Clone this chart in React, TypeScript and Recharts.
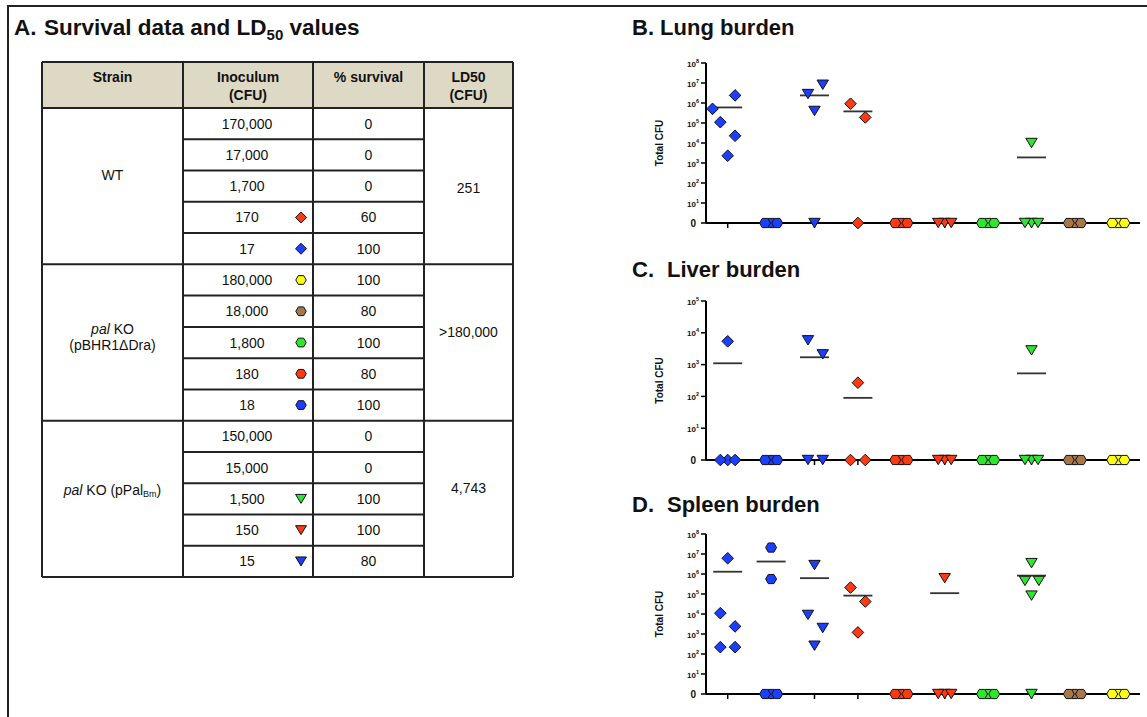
import React from "react";
import { ScatterChart, Scatter, XAxis, YAxis } from "recharts";

const FONT = "Arial, 'Liberation Sans', Helvetica, sans-serif";

const BLUE = "#1c3fff";
const RED = "#ff3a12";
const GREEN = "#2fe62f";
const BROWN = "#a5774b";
const YELLOW = "#ffff14";

// groups along the x axis (1..10), keyed to the symbols of the table
const groupLabels = [
  "WT 17",
  "pal KO 18",
  "pal KO (pPal) 15",
  "WT 170",
  "pal KO 180",
  "pal KO (pPal) 150",
  "pal KO 1,800",
  "pal KO (pPal) 1,500",
  "pal KO 18,000",
  "pal KO 180,000",
];
const groupShapes = ["diamond", "hexagon", "triangle", "diamond", "hexagon", "triangle", "hexagon", "triangle", "hexagon", "hexagon"];
const groupColors = [BLUE, BLUE, BLUE, RED, RED, RED, GREEN, GREEN, BROWN, YELLOW];

// lung burden, total CFU per mouse (0 = none recovered)
const lungValues = [
  [5.1e5, 1.1e5, 2.4e6, 2.3e4, 2.3e3],
  [0, 0, 0],
  [2.8e6, 8.2e6, 4e5, 0],
  [9.2e5, 1.9e5, 0],
  [0, 0, 0],
  [0, 0, 0],
  [0, 0, 0],
  [1e4, 0, 0, 0],
  [0, 0, 0],
  [0, 0, 0],
];
const lungOffsets = [
  [-0.35, -0.17, 0.17, 0.17, 0],
  [0, -0.14, 0.14],
  [-0.15, 0.19, 0, 0],
  [-0.17, 0.17, 0],
  [0, -0.14, 0.14],
  [0, -0.15, 0.15],
  [0, -0.14, 0.14],
  [0, 0, -0.15, 0.15],
  [0, -0.14, 0.14],
  [0, -0.14, 0.14],
];
const lungMeans = [6e5, null, 2.4e6, 3.8e5, null, null, null, 1.9e3, null, null];

// liver burden
const liverValues = [
  [5.4e3, 0, 0, 0],
  [0, 0, 0],
  [5.8e3, 2.1e3, 0, 0],
  [2.7e2, 0, 0],
  [0, 0, 0],
  [0, 0, 0],
  [0, 0, 0],
  [2.8e3, 0, 0, 0],
  [0, 0, 0],
  [0, 0, 0],
];
const liverOffsets = [
  [0, 0, -0.17, 0.17],
  [0, -0.14, 0.14],
  [-0.15, 0.19, -0.15, 0.19],
  [0, -0.17, 0.17],
  [0, -0.14, 0.14],
  [0, -0.15, 0.15],
  [0, -0.14, 0.14],
  [0, 0, -0.15, 0.15],
  [0, -0.14, 0.14],
  [0, -0.14, 0.14],
];
const liverMeans = [1.1e3, null, 1.7e3, 90, null, null, null, 5.3e2, null, null];

// spleen burden
const spleenValues = [
  [6.1e6, 1.1e4, 2.4e3, 2.2e2, 2.2e2],
  [2.1e7, 5.6e5, 0, 0, 0],
  [2.8e6, 9e3, 2e3, 2.6e2],
  [2.1e5, 4.2e4, 1.2e3],
  [0, 0, 0],
  [6.2e5, 0, 0, 0],
  [0, 0, 0],
  [3.5e6, 4.5e5, 4.5e5, 8.3e4, 0],
  [0, 0, 0],
  [0, 0, 0],
];
const spleenOffsets = [
  [0, -0.17, 0.17, -0.17, 0.17],
  [0, 0, 0, -0.14, 0.14],
  [0, -0.15, 0.19, 0],
  [-0.17, 0.17, 0],
  [0, -0.14, 0.14],
  [0, 0, -0.15, 0.15],
  [0, -0.14, 0.14],
  [0, -0.15, 0.17, 0, 0],
  [0, -0.14, 0.14],
  [0, -0.14, 0.14],
];
const spleenMeans = [1.3e6, 4.2e6, 6.2e5, 8.3e4, null, 1.1e5, null, 8.3e5, null, null];

// table A
const strainLD50 = ["251", ">180,000", "4,743"];
const inocula = [
  ["170,000", "17,000", "1,700", "170", "17"],
  ["180,000", "18,000", "1,800", "180", "18"],
  ["150,000", "15,000", "1,500", "150", "15"],
];
const survival = [
  ["0", "0", "0", "60", "100"],
  ["100", "80", "100", "80", "100"],
  ["0", "0", "100", "100", "80"],
];
// which plotted group each inoculum row stands for
const rowGroups = [
  [null, null, null, 3, 0],
  [9, 8, 6, 4, 1],
  [null, null, 7, 5, 2],
];

const toLog = (v: number) => (v > 0 ? Math.log10(v) : 0);

function buildPoints(values: number[][], offsets: number[][]) {
  return values.map((vals, g) =>
    vals.map((v, i) => ({ x: g + 1 + offsets[g][i], y: toLog(v), group: groupLabels[g] }))
  );
}
function buildMeans(means: (number | null)[]) {
  return means
    .map((m, g) => (m == null ? null : { x: g + 1, y: toLog(m) }))
    .filter(Boolean) as { x: number; y: number }[];
}

function markerPath(shape: string, cx: number, cy: number, s = 1) {
  if (shape === "diamond") {
    const r = 5.8 * s;
    return `M${cx},${cy - r}L${cx + r},${cy}L${cx},${cy + r}L${cx - r},${cy}Z`;
  }
  if (shape === "hexagon") {
    const w = 5.5 * s, w2 = 2.8 * s, h = 4.6 * s;
    return `M${cx - w},${cy}L${cx - w2},${cy - h}L${cx + w2},${cy - h}L${cx + w},${cy}L${cx + w2},${cy + h}L${cx - w2},${cy + h}Z`;
  }
  const w = 5.7 * s, h = 4.7 * s;
  return `M${cx - w},${cy - h}L${cx + w},${cy - h}L${cx},${cy + h}Z`;
}

const makeMarker = (shape: string, color: string) => (props: any) => {
  const { cx, cy } = props;
  if (cx == null || cy == null) return <g />;
  return <path d={markerPath(shape, cx, cy)} fill={color} stroke="#111" strokeWidth={1} />;
};

const MeanLine = (props: any) => {
  const { cx, cy } = props;
  if (cx == null || cy == null) return <g />;
  return <line x1={cx - 14.5} x2={cx + 14.5} y1={cy} y2={cy} stroke="#333" strokeWidth={1.8} />;
};

const LogTick = (props: any) => {
  const { x, y, payload } = props;
  const v = payload.value;
  if (v === 0) {
    return (
      <text x={x - 3} y={y + 4} textAnchor="end" fontSize={10} fontWeight="bold" fontFamily={FONT} fill="#111">
        0
      </text>
    );
  }
  return (
    <text x={x} y={y + 3.5} textAnchor="end" fontFamily={FONT} fontWeight="bold" fill="#111">
      <tspan fontSize={8}>10</tspan>
      <tspan fontSize={5.5} dy={-4}>
        {v}
      </tspan>
    </text>
  );
};

const yLabel = (props: any) => {
  const vb = props.viewBox || {};
  const cx = vb.x + 19;
  const cy = vb.y + vb.height / 2;
  return (
    <text
      x={cx}
      y={cy}
      transform={`rotate(-90 ${cx} ${cy})`}
      textAnchor="middle"
      dominantBaseline="central"
      fontFamily={FONT}
      fontWeight="bold"
      fontSize={10}
      fill="#111"
    >
      Total CFU
    </text>
  );
};

const groupTicks = [1, 2, 3, 4, 5, 6, 7, 8, 9, 10];

function BurdenChart({
  top,
  height,
  marginTop,
  maxExp,
  values,
  offsets,
  means,
}: {
  top: number;
  height: number;
  marginTop: number;
  maxExp: number;
  values: number[][];
  offsets: number[][];
  means: (number | null)[];
}) {
  const points = buildPoints(values, offsets);
  const meanPts = buildMeans(means);
  const yTicks = Array.from({ length: maxExp + 1 }, (_, i) => i);
  return (
    <div style={{ position: "absolute", left: 640, top, width: 505, height }}>
      <ScatterChart width={505} height={height} margin={{ top: marginTop, right: 5, bottom: 0, left: 0 }}>
        <XAxis
          type="number"
          dataKey="x"
          domain={[0.5, 10.5]}
          ticks={groupTicks}
          interval={0}
          tickFormatter={() => ""}
          tickSize={5}
          height={12}
          axisLine={{ stroke: "#000", strokeWidth: 2 }}
          tickLine={{ stroke: "#000", strokeWidth: 1.5 }}
        />
        <YAxis
          type="number"
          dataKey="y"
          domain={[0, maxExp]}
          ticks={yTicks}
          interval={0}
          width={66}
          tickSize={5}
          tickMargin={2}
          tick={LogTick}
          axisLine={{ stroke: "#000", strokeWidth: 2 }}
          tickLine={{ stroke: "#000", strokeWidth: 1.5 }}
          label={yLabel}
        />
        <Scatter data={meanPts} shape={MeanLine} isAnimationActive={false} />
        {points.map((pts, g) => (
          <Scatter
            key={g}
            name={groupLabels[g]}
            data={pts}
            shape={makeMarker(groupShapes[g], groupColors[g])}
            isAnimationActive={false}
          />
        ))}
      </ScatterChart>
    </div>
  );
}

// table geometry
const colX = [42, 183, 313, 424, 513];
const headTop = 62;
const headBottom = 108;
const rowH = 31.27;

function Table() {
  const rowY = (i: number) => headBottom + i * rowH;
  const lines: React.ReactNode[] = [];
  for (let i = 0; i <= 15; i++) {
    const y = rowY(i);
    const full = i % 5 === 0;
    lines.push(
      <line key={"h" + i} x1={full ? colX[0] : colX[1]} x2={full ? colX[4] : colX[3]} y1={y} y2={y} stroke="#222" strokeWidth={2} />
    );
  }
  lines.push(<line key="htop" x1={colX[0]} x2={colX[4]} y1={headTop} y2={headTop} stroke="#222" strokeWidth={2} />);
  colX.forEach((x, i) =>
    lines.push(<line key={"v" + i} x1={x} x2={x} y1={headTop} y2={rowY(15)} stroke="#222" strokeWidth={2} />)
  );
  const cells: React.ReactNode[] = [];
  inocula.forEach((grp, s) =>
    grp.forEach((inoc, r) => {
      const i = s * 5 + r;
      const cy = rowY(i) + rowH / 2;
      cells.push(
        <text key={"i" + i} x={247} y={cy + 5} textAnchor="middle">
          {inoc}
        </text>
      );
      cells.push(
        <text key={"s" + i} x={368.5} y={cy + 5} textAnchor="middle">
          {survival[s][r]}
        </text>
      );
      const g = rowGroups[s][r];
      if (g != null) {
        cells.push(
          <path key={"m" + i} d={markerPath(groupShapes[g], 301, cy, 0.95)} fill={groupColors[g]} stroke="#111" strokeWidth={1} />
        );
      }
    })
  );
  const midX = (colX[0] + colX[1]) / 2;
  const ldX = (colX[3] + colX[4]) / 2;
  return (
    <g fontFamily={FONT} fontSize={14} fill="#111">
      <rect x={colX[0]} y={headTop} width={colX[4] - colX[0]} height={headBottom - headTop} fill="#ddd9c4" />
      <g fontWeight="bold" textAnchor="middle">
        <text x={midX} y={82}>Strain</text>
        <text x={(colX[1] + colX[2]) / 2} y={82}>Inoculum</text>
        <text x={(colX[1] + colX[2]) / 2} y={100}>(CFU)</text>
        <text x={(colX[2] + colX[3]) / 2} y={82}>% survival</text>
        <text x={ldX} y={82}>LD50</text>
        <text x={ldX} y={100}>(CFU)</text>
      </g>
      {cells}
      <text x={midX} y={180} textAnchor="middle">WT</text>
      <text x={midX} y={334} textAnchor="middle">
        <tspan fontStyle="italic">pal</tspan> KO
      </text>
      <text x={midX} y={350} textAnchor="middle">(pBHR1ΔDra)</text>
      <text x={midX} y={495} textAnchor="middle">
        <tspan fontStyle="italic">pal</tspan> KO (pPal<tspan fontSize={9} dy={2}>Bm</tspan>
        <tspan dy={-2}>)</tspan>
      </text>
      <text x={ldX} y={193} textAnchor="middle">{strainLD50[0]}</text>
      <text x={ldX} y={337} textAnchor="middle">{strainLD50[1]}</text>
      <text x={ldX} y={493} textAnchor="middle">{strainLD50[2]}</text>
      {lines}
    </g>
  );
}

export default function App() {
  return (
    <div style={{ position: "absolute", left: 0, top: 0, width: 1147, height: 717, background: "#fff", overflow: "hidden", fontFamily: FONT }}>
      <svg width={1147} height={717} style={{ position: "absolute", left: 0, top: 0 }}>
        <line x1={7} x2={1147} y1={6} y2={6} stroke="#222" strokeWidth={2} />
        <line x1={8} x2={8} y1={5} y2={717} stroke="#222" strokeWidth={2} />
        <g fontFamily={FONT} fontWeight="bold" fontSize={22} fill="#111">
          <text x={14} y={35} fontSize={22.5}>
            A.<tspan x={44}>Survival data and LD</tspan>
            <tspan fontSize={15} dy={5}>50</tspan>
            <tspan dy={-5}> values</tspan>
          </text>
          <text x={632} y={35}>B. Lung burden</text>
          <text x={632} y={277}>
            C.<tspan x={667}>Liver burden</tspan>
          </text>
          <text x={632} y={512}>
            D.<tspan x={667}>Spleen burden</tspan>
          </text>
        </g>
        <Table />
      </svg>
      <BurdenChart top={50} height={185} marginTop={13} maxExp={8} values={lungValues} offsets={lungOffsets} means={lungMeans} />
      <BurdenChart top={280} height={192} marginTop={21} maxExp={5} values={liverValues} offsets={liverOffsets} means={liverMeans} />
      <BurdenChart top={510} height={196} marginTop={24} maxExp={8} values={spleenValues} offsets={spleenOffsets} means={spleenMeans} />
    </div>
  );
}
